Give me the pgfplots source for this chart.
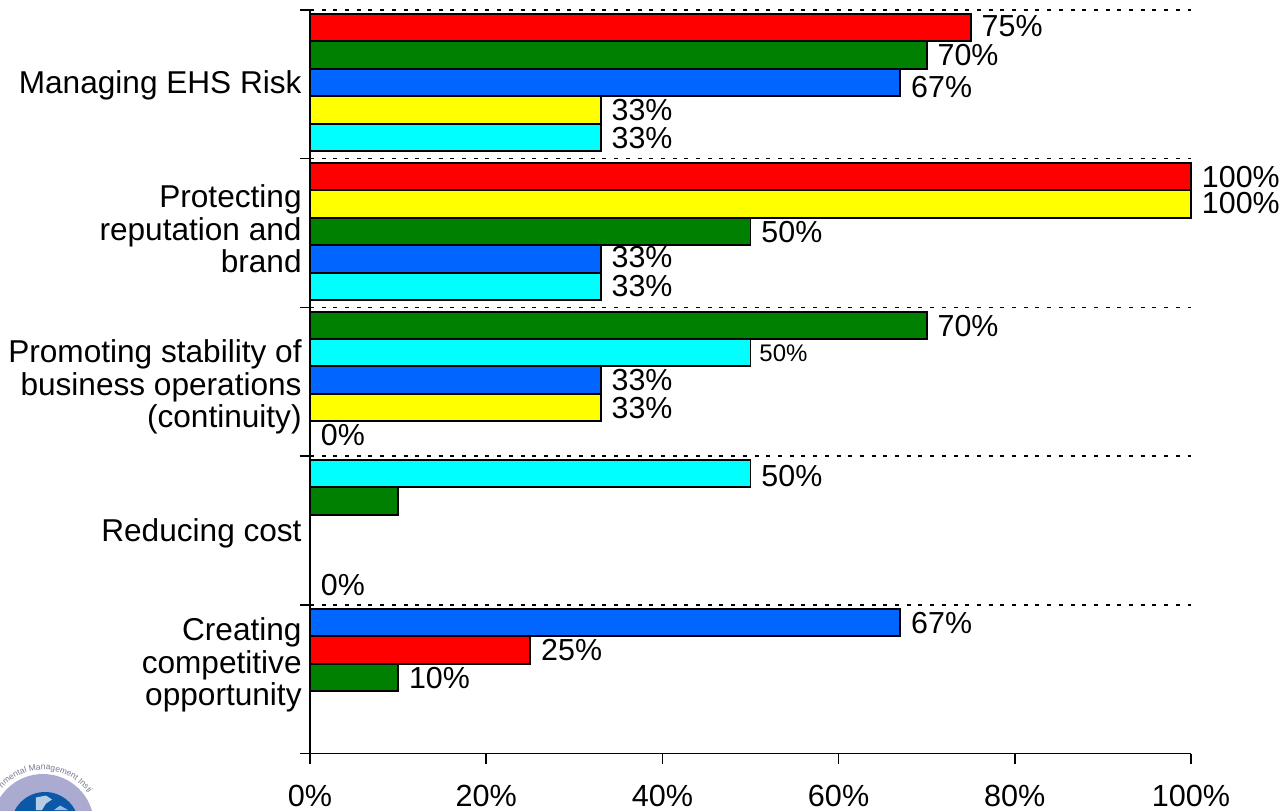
\documentclass[border=0pt]{standalone}
\usepackage{fontspec}
\setmainfont{Liberation Sans}
\usepackage{pgfplots}
\pgfplotsset{compat=1.18}
\usetikzlibrary{decorations.text}

\definecolor{barred}{HTML}{FF0000}
\definecolor{barblue}{HTML}{0066FF}
\definecolor{bargreen}{HTML}{008000}
\definecolor{baryellow}{HTML}{FFFF00}
\definecolor{barcyan}{HTML}{00FFFF}
\definecolor{ringlav}{HTML}{ABABD2}
\definecolor{globeblue}{HTML}{0B57A8}
\definecolor{ringtext}{HTML}{77778F}

% Vertical scale: one unit is the height of one slot-pixel, counted up from the x axis.
\pgfplotstableread{
val pos
75 726
100 577
0 319
25 103.5
}\redbars
\pgfplotstableread{
val pos
70 698.5
50 522
70 428
10 252.5
10 76
}\greenbars
\pgfplotstableread{
val pos
67 671
33 494.5
33 373.5
67 131
}\bluebars
\pgfplotstableread{
val pos
33 643.5
100 549.5
33 346
}\yellowbars
\pgfplotstableread{
val pos
33 616
33 467
50 401
50 280
}\cyanbars
% Value labels, with the height at which each one sits
\pgfplotstableread{
val pos
75 727.5
70 698.5
67 666.5
33 643.5
33 615.5
100 576.5
100 550.5
50 521.5
33 496.5
33 467.5
70 427.5
33 373.5
33 345.5
0 318.5
50 277.5
0 168.5
67 130.5
25 103.5
10 75.5
}\labels
\pgfplotstableread{
val pos
50 400.5
}\smalllabels

\begin{document}
\begin{tikzpicture}
\useasboundingbox (-155pt,-28.25pt) rectangle (485pt,376.75pt);

% Emblem at the lower left, cut by the page edge
\begin{scope}
\clip (-155pt,-28.25pt) rectangle (-60pt,0pt);
\fill[ringlav] (-133.5pt,-35.75pt) circle (25.5pt);
\fill[globeblue] (-132.5pt,-36.25pt) circle (17pt);
\fill[white!70!globeblue] (-137pt,-22pt) -- (-132pt,-21pt) -- (-129pt,-23pt) -- (-132pt,-25pt) -- (-134pt,-28.25pt) -- (-137pt,-28.25pt) -- cycle;
\fill[white!60!globeblue] (-125pt,-26pt) -- (-121pt,-28.25pt) -- (-128pt,-28.25pt) -- cycle;
\path[postaction={decorate},decoration={text along path,text align=left,
  text={|\fontsize{4.2}{4.2}\selectfont\color{ringtext}|nmental Management Insti}}]
  (-153.9pt,-17.3pt) arc[start angle=138,end angle=25,radius=27.5pt];
\end{scope}

\begin{axis}[
  at={(0pt,0pt)}, anchor=south west,
  scale only axis, width=440.5pt, height=371.75pt,
  xmin=0, xmax=100, ymin=0, ymax=743.5,
  axis lines=left,
  axis line style={-, black, line width=0.85pt},
  tick style={black, line width=0.75pt},
  tick align=outside,
  major tick length=5pt,
  xtick={0,20,40,60,80,100},
  xticklabels={0\%,20\%,40\%,60\%,80\%,100\%},
  ytick={0,148.7,297.4,446.1,594.8,743.5},
  yticklabels={},
  ymajorgrids,
  grid style={black, line width=0.75pt, dash pattern=on 2pt off 3.85pt},
  extra y ticks={668.5,524.5,366.5,220.5,88.5},
  extra y tick labels={Managing EHS Risk,{Protecting\\reputation and\\brand},{Promoting stability of\\business operations\\(continuity)},Reducing cost,{Creating\\competitive\\opportunity}},
  extra y tick style={major tick length=0pt, grid=none,
    yticklabel style={align=right, anchor=east, inner sep=0pt, xshift=-4pt}},
  ticklabel style={font=\fontsize{15.8}{16.25}\selectfont},
  xticklabel style={inner sep=0pt, yshift=-10.5pt, font=\fontsize{15.3}{16.25}\selectfont},
  clip=false,
  xbar, bar shift=0pt, bar width=13.75pt,
  every axis plot/.append style={draw=black, line width=0.95pt},
]
\addplot[fill=barred] table[x=val,y=pos] {\redbars};
\addplot[fill=bargreen] table[x=val,y=pos] {\greenbars};
\addplot[fill=barblue] table[x=val,y=pos] {\bluebars};
\addplot[fill=baryellow] table[x=val,y=pos] {\yellowbars};
\addplot[fill=barcyan] table[x=val,y=pos] {\cyanbars};
\addplot[draw=none, fill=none, mark=none, forget plot,
  point meta=x,
  nodes near coords={\pgfmathprintnumber[precision=0]{\pgfplotspointmeta}\%},
  every node near coord/.style={font=\fontsize{15.2}{16.25}\selectfont, anchor=west, inner sep=0pt, xshift=5pt, text=black, draw=none, fill=none, /pgf/number format/assume math mode=true},
] table[x=val,y=pos] {\labels};
\addplot[draw=none, fill=none, mark=none, forget plot,
  point meta=x,
  nodes near coords={\pgfmathprintnumber[precision=0]{\pgfplotspointmeta}\%},
  every node near coord/.style={font=\fontsize{12}{13}\selectfont, anchor=west, inner sep=0pt, xshift=4pt, text=black, draw=none, fill=none, /pgf/number format/assume math mode=true},
] table[x=val,y=pos] {\smalllabels};
\end{axis}
\end{tikzpicture}
\end{document}
